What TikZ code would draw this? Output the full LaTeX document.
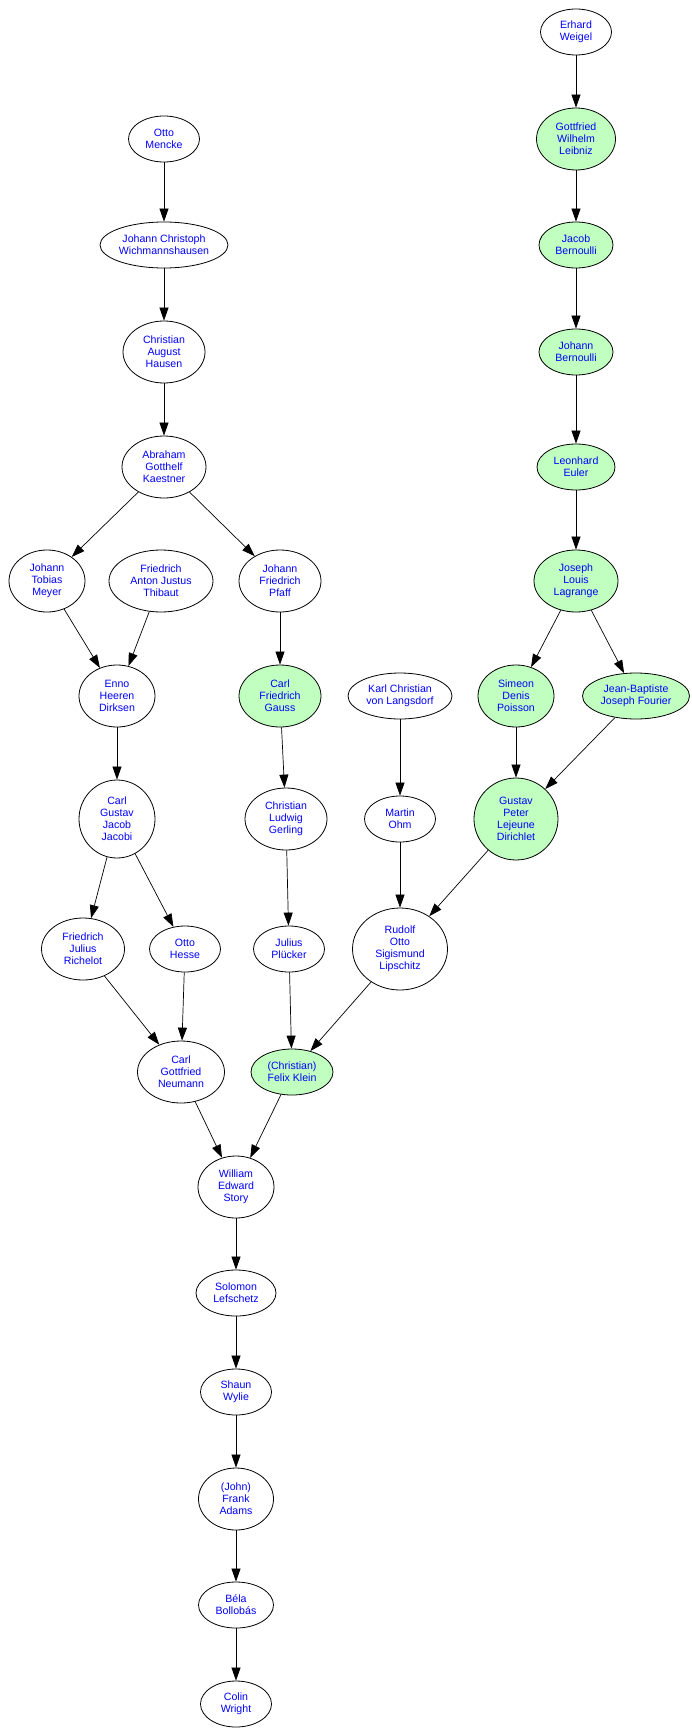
\documentclass[tikz,border=0pt]{standalone}
\usepackage{fontspec}
\setmainfont{Liberation Sans}
\usetikzlibrary{arrows.meta,shapes.geometric}

\definecolor{pgreen}{RGB}{192,255,192}

\begin{document}
\begin{tikzpicture}[x=1pt,y=-1pt,
    person/.style={draw,ellipse,line width=0.8pt,inner sep=0pt,align=center,
      text=blue,font=\fontsize{10.6}{12}\selectfont},
    hl/.style={person,fill=pgreen},
    link/.style={-{Triangle[length=13pt,width=9pt]},line width=0.7pt}]
    \useasboundingbox (0,0) rectangle (691,1736);
    % Leibniz line
    \node[person,minimum width=71,minimum height=46] (weigel) at (576,32) {Erhard\\Weigel};
    \node[hl,minimum width=79,minimum height=62] (leibniz) at (576,139) {Gottfried\\Wilhelm\\Leibniz};
    \node[hl,minimum width=74,minimum height=46] (jbern) at (576,245) {Jacob\\Bernoulli};
    \node[hl,minimum width=74,minimum height=46] (jobern) at (576,352) {Johann\\Bernoulli};
    \node[hl,minimum width=78,minimum height=46] (euler) at (576,467) {Leonhard\\Euler};
    \node[hl,minimum width=84,minimum height=62] (lagrange) at (576,581) {Joseph\\Louis\\Lagrange};
    \node[hl,minimum width=76,minimum height=62] (poisson) at (516,696) {Simeon\\Denis\\Poisson};
    \node[hl,minimum width=107,minimum height=46] (fourier) at (636,696) {Jean-Baptiste\\Joseph Fourier};
    \node[hl,minimum width=84,minimum height=82] (dirichlet) at (516,819) {Gustav\\Peter\\Lejeune\\Dirichlet};
    % Mencke line
    \node[person,minimum width=71,minimum height=46] (mencke) at (164,139) {Otto\\Mencke};
    \node[person,minimum width=128,minimum height=46] (wichmann) at (164,245) {Johann Christoph\\Wichmannshausen};
    \node[person,minimum width=82,minimum height=62] (hausen) at (164,352) {Christian\\August\\Hausen};
    \node[person,minimum width=84,minimum height=62] (kaestner) at (164,467) {Abraham\\Gotthelf\\Kaestner};
    \node[person,minimum width=76,minimum height=62] (meyer) at (47,581) {Johann\\Tobias\\Meyer};
    \node[person,minimum width=104,minimum height=62] (thibaut) at (161,581) {Friedrich\\Anton Justus\\Thibaut};
    \node[person,minimum width=82,minimum height=62] (pfaff) at (280,581) {Johann\\Friedrich\\Pfaff};
    \node[person,minimum width=76,minimum height=62] (dirksen) at (117,696) {Enno\\Heeren\\Dirksen};
    \node[hl,minimum width=82,minimum height=62] (gauss) at (280,696) {Carl\\Friedrich\\Gauss};
    \node[person,minimum width=104,minimum height=46] (langsdorf) at (400,696) {Karl Christian\\von Langsdorf};
    \node[person,minimum width=76,minimum height=78] (jacobi) at (117,819) {Carl\\Gustav\\Jacob\\Jacobi};
    \node[person,minimum width=82,minimum height=62] (gerling) at (286,819) {Christian\\Ludwig\\Gerling};
    \node[person,minimum width=71,minimum height=46] (ohm) at (400,819) {Martin\\Ohm};
    \node[person,minimum width=83,minimum height=62] (richelot) at (83,949) {Friedrich\\Julius\\Richelot};
    \node[person,minimum width=71,minimum height=46] (hesse) at (185,949) {Otto\\Hesse};
    \node[person,minimum width=71,minimum height=46] (pluecker) at (289,949) {Julius\\Plücker};
    \node[person,minimum width=95,minimum height=82] (lipschitz) at (400,949) {Rudolf\\Otto\\Sigismund\\Lipschitz};
    \node[person,minimum width=87,minimum height=62] (neumann) at (181,1072) {Carl\\Gottfried\\Neumann};
    \node[hl,minimum width=82,minimum height=46] (klein) at (292,1072) {(Christian)\\Felix Klein};
    % down to Wright
    \node[person,minimum width=76,minimum height=62] (story) at (236,1187) {William\\Edward\\Story};
    \node[person,minimum width=80,minimum height=46] (lefschetz) at (236,1293) {Solomon\\Lefschetz};
    \node[person,minimum width=71,minimum height=46] (wylie) at (236,1392) {Shaun\\Wylie};
    \node[person,minimum width=75,minimum height=62] (adams) at (236,1499) {(John)\\Frank\\Adams};
    \node[person,minimum width=75,minimum height=46] (bollobas) at (236,1605) {Béla\\Bollobás};
    \node[person,minimum width=71,minimum height=46] (wright) at (236,1704) {Colin\\Wright};

    \draw[link] (weigel) -- (leibniz);
    \draw[link] (leibniz) -- (jbern);
    \draw[link] (jbern) -- (jobern);
    \draw[link] (jobern) -- (euler);
    \draw[link] (euler) -- (lagrange);
    \draw[link] (lagrange) -- (poisson);
    \draw[link] (lagrange) -- (fourier);
    \draw[link] (poisson) -- (dirichlet);
    \draw[link] (fourier) -- (dirichlet);
    \draw[link] (mencke) -- (wichmann);
    \draw[link] (wichmann) -- (hausen);
    \draw[link] (hausen) -- (kaestner);
    \draw[link] (kaestner) -- (meyer);
    \draw[link] (kaestner) -- (pfaff);
    \draw[link] (meyer) -- (dirksen);
    \draw[link] (thibaut) -- (dirksen);
    \draw[link] (pfaff) -- (gauss);
    \draw[link] (dirksen) -- (jacobi);
    \draw[link] (gauss) -- (gerling);
    \draw[link] (langsdorf) -- (ohm);
    \draw[link] (jacobi) -- (richelot);
    \draw[link] (jacobi) -- (hesse);
    \draw[link] (gerling) -- (pluecker);
    \draw[link] (ohm) -- (lipschitz);
    \draw[link] (dirichlet) -- (lipschitz);
    \draw[link] (richelot) -- (neumann);
    \draw[link] (hesse) -- (neumann);
    \draw[link] (pluecker) -- (klein);
    \draw[link] (lipschitz) -- (klein);
    \draw[link] (neumann) -- (story);
    \draw[link] (klein) -- (story);
    \draw[link] (story) -- (lefschetz);
    \draw[link] (lefschetz) -- (wylie);
    \draw[link] (wylie) -- (adams);
    \draw[link] (adams) -- (bollobas);
    \draw[link] (bollobas) -- (wright);
\end{tikzpicture}
\end{document}
